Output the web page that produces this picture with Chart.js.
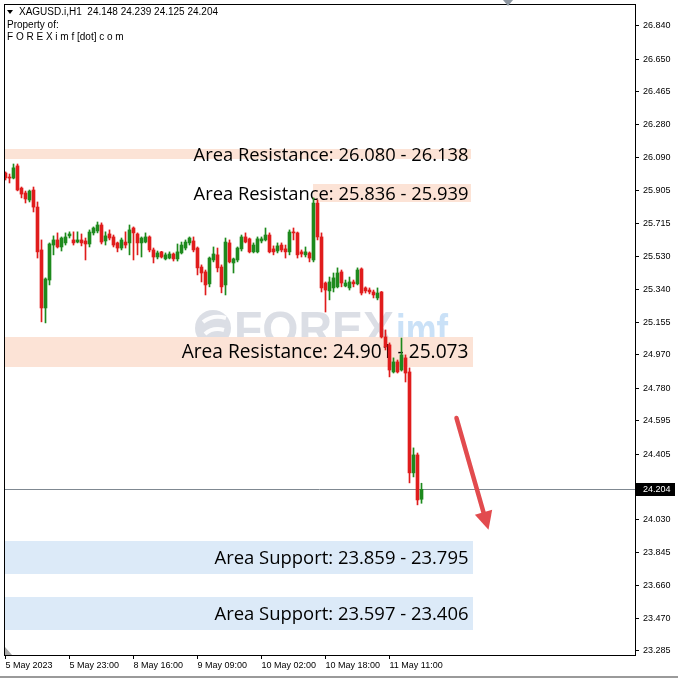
<!DOCTYPE html>
<html><head><meta charset="utf-8">
<script src="https://cdn.jsdelivr.net/npm/chart.js@4.4.1/dist/chart.umd.min.js"></script>
<style>html,body{margin:0;padding:0;background:#fff;overflow:hidden}canvas{display:block}</style>
</head><body>
<canvas id="c" width="678" height="678"></canvas>
<script>
// ---- data (XAGUSD.i H1) ----
const opens  = [26.004,25.978,25.975,26.044,25.918,25.890,25.850,25.907,25.810,25.566,25.236,25.395,25.594,25.623,25.583,25.606,25.646,25.623,25.611,25.623,25.617,25.600,25.663,25.674,25.708,25.617,25.657,25.640,25.606,25.577,25.611,25.606,25.691,25.657,25.606,25.611,25.640,25.566,25.526,25.555,25.515,25.520,25.543,25.515,25.549,25.577,25.606,25.617,25.577,25.469,25.441,25.373,25.509,25.538,25.469,25.367,25.606,25.492,25.509,25.572,25.640,25.629,25.555,25.555,25.617,25.623,25.651,25.572,25.560,25.594,25.572,25.555,25.668,25.663,25.555,25.538,25.549,25.509,25.833,25.640,25.378,25.333,25.350,25.356,25.441,25.361,25.350,25.384,25.373,25.458,25.350,25.338,25.327,25.293,25.327,25.071,25.026,24.872,24.929,24.883,24.952,24.872,24.298,24.400,24.148];
const highs  = [26.010,25.998,26.055,26.055,25.924,25.901,25.907,25.924,25.839,25.623,25.407,25.606,25.646,25.663,25.640,25.663,25.669,25.669,25.669,25.657,25.634,25.680,25.697,25.725,25.720,25.669,25.680,25.651,25.611,25.634,25.669,25.708,25.697,25.663,25.640,25.663,25.646,25.577,25.560,25.558,25.549,25.555,25.549,25.600,25.611,25.623,25.640,25.640,25.583,25.481,25.452,25.526,25.583,25.577,25.481,25.634,25.623,25.520,25.583,25.651,25.663,25.634,25.606,25.640,25.640,25.691,25.663,25.589,25.606,25.606,25.594,25.680,25.691,25.668,25.566,25.583,25.555,25.862,25.850,25.663,25.384,25.412,25.435,25.464,25.452,25.395,25.412,25.395,25.464,25.464,25.356,25.350,25.338,25.350,25.330,25.111,25.037,24.952,24.940,25.065,24.969,24.895,24.440,24.411,24.239];
const lows   = [25.964,25.947,25.970,25.902,25.862,25.833,25.839,25.782,25.520,25.157,25.151,25.367,25.538,25.577,25.560,25.594,25.634,25.594,25.606,25.589,25.509,25.583,25.651,25.663,25.600,25.594,25.623,25.583,25.555,25.566,25.577,25.538,25.509,25.538,25.526,25.606,25.555,25.492,25.515,25.520,25.509,25.515,25.503,25.503,25.543,25.566,25.594,25.555,25.424,25.384,25.310,25.356,25.498,25.441,25.322,25.310,25.492,25.435,25.498,25.560,25.606,25.549,25.549,25.549,25.606,25.617,25.549,25.538,25.549,25.555,25.520,25.538,25.623,25.520,25.526,25.526,25.498,25.498,25.623,25.327,25.213,25.282,25.327,25.350,25.356,25.356,25.338,25.356,25.367,25.310,25.321,25.316,25.293,25.282,25.065,24.997,24.844,24.866,24.866,24.877,24.815,24.241,24.275,24.116,24.125];
const closes = [25.976,25.975,26.033,25.907,25.884,25.856,25.901,25.810,25.555,25.236,25.401,25.600,25.623,25.583,25.634,25.640,25.657,25.606,25.623,25.606,25.600,25.668,25.691,25.708,25.611,25.646,25.634,25.594,25.577,25.623,25.594,25.680,25.663,25.606,25.634,25.640,25.566,25.526,25.549,25.526,25.538,25.543,25.515,25.555,25.594,25.611,25.634,25.566,25.464,25.435,25.367,25.520,25.543,25.464,25.356,25.611,25.498,25.515,25.577,25.640,25.611,25.555,25.594,25.629,25.629,25.651,25.555,25.555,25.589,25.566,25.555,25.668,25.663,25.538,25.543,25.555,25.520,25.833,25.640,25.350,25.338,25.384,25.407,25.435,25.378,25.378,25.384,25.373,25.452,25.321,25.333,25.327,25.310,25.321,25.071,25.014,24.883,24.929,24.872,24.969,24.866,24.298,24.400,24.144,24.204];
const timeTickIndex  = [0, 16, 32, 48, 64, 80, 96];
const timeTickLabels = ['5 May 2023','5 May 23:00','8 May 16:00','9 May 09:00','10 May 02:00','10 May 18:00','11 May 11:00'];
const priceTicks = [26.840,26.650,26.465,26.280,26.090,25.905,25.715,25.530,25.340,25.155,24.970,24.780,24.595,24.405,24.030,23.845,23.660,23.470,23.285];
const lastPrice = 24.204;
const headerLines = ['XAGUSD.i,H1  24.148 24.239 24.125 24.204', 'Property of:', 'F O R E X i m f [dot] c o m'];
const zoneLabels = ['Area Resistance: 26.080 - 26.138','Area Resistance: 25.836 - 25.939','Area Resistance: 24.901 - 25.073','Area Support: 23.859 - 23.795','Area Support: 23.597 - 23.406'];
const zoneTop    = [26.138, 25.939, 25.073, 23.911, 23.592];
const zoneBottom = [26.080, 25.836, 24.901, 23.723, 23.404];
const zoneFrom   = [-2, 76.75, -2, -2, -2];
const zoneTo     = [116.25, 116.25, 116.75, 116.75, 116.75];
const zoneKind   = ['res','res','res','sup','sup'];
const arrowFrom = {x:112.75, y:24.610};
const arrowTo   = {x:120.75, y:23.975};

// ---- styling ----
const UP = '#1d8a1d', DOWN = '#e01c1c';
const AX_FONT = {family:'"Liberation Sans", Arial, sans-serif', size:9};
const zoneTextWidth = [275, 275, 287, 254, 254];
const zoneTextRightInset = [2, 2, 4, 4, 4];

const bodyColors = closes.map((c,i)=> c>=opens[i] ? UP : DOWN);

const overlay = {
  id:'overlay',
  beforeDatasetsDraw(chart){
    const {ctx, chartArea:a, scales:{x,y}} = chart;
    ctx.save();
    ctx.beginPath(); ctx.rect(a.left,a.top,a.right-a.left,a.bottom-a.top); ctx.clip();
    // watermark
    ctx.fillStyle = 'rgba(175,182,198,0.45)';
    ctx.beginPath(); ctx.arc(213, 328, 18, 0, Math.PI*2); ctx.fill();
    ctx.strokeStyle = 'rgba(255,255,255,0.9)'; ctx.lineWidth = 4;
    ctx.beginPath(); ctx.moveTo(203,322); ctx.quadraticCurveTo(213,314,226,318); ctx.stroke();
    ctx.beginPath(); ctx.moveTo(205,334); ctx.quadraticCurveTo(213,327,224,330); ctx.stroke();
    ctx.font = 'bold 48px "Liberation Sans", Arial, sans-serif';
    ctx.textBaseline = 'alphabetic'; ctx.textAlign = 'left';
    const wF = ctx.measureText('FOREX').width;
    ctx.save(); ctx.translate(234, 345); ctx.scale(160/wF, 1);
    ctx.fillStyle = 'rgba(175,182,198,0.45)'; ctx.fillText('FOREX', 0, 0); ctx.restore();
    ctx.font = 'bold 44px "Liberation Sans", Arial, sans-serif';
    const wI = ctx.measureText('imf').width;
    ctx.save(); ctx.translate(396, 345); ctx.scale(52/wI, 1);
    ctx.fillStyle = 'rgba(150,195,240,0.5)'; ctx.fillText('imf', 0, 0); ctx.restore();
    // zones
    for (let k=0;k<zoneLabels.length;k++){
      const x0 = Math.max(a.left, x.getPixelForValue(zoneFrom[k]));
      const x1 = x.getPixelForValue(zoneTo[k]);
      const y0 = y.getPixelForValue(zoneTop[k]), y1 = y.getPixelForValue(zoneBottom[k]);
      ctx.fillStyle = zoneKind[k]==='res' ? '#fce3d6' : '#dceaf8';
      ctx.fillRect(Math.round(x0), Math.round(y0), Math.round(x1-x0), Math.round(y1-y0));
    }
    // zone labels
    for (let k=0;k<zoneLabels.length;k++){
      const x1 = x.getPixelForValue(zoneTo[k]) - zoneTextRightInset[k];
      const yc = (y.getPixelForValue(zoneTop[k]) + y.getPixelForValue(zoneBottom[k]))/2 + 1;
      ctx.font = '20px "Open Sans", "Noto Sans", sans-serif';
      const w = ctx.measureText(zoneLabels[k]).width;
      const size = 20*zoneTextWidth[k]/w;
      ctx.font = size.toFixed(2)+'px "Open Sans", "Noto Sans", sans-serif';
      ctx.fillStyle = '#000'; ctx.textAlign = 'right'; ctx.textBaseline = 'middle';
      ctx.fillText(zoneLabels[k], x1, yc);
    }
    // bid line
    const py = Math.round(y.getPixelForValue(lastPrice)) + 0.5;
    ctx.strokeStyle = '#7f8891'; ctx.lineWidth = 1;
    ctx.beginPath(); ctx.moveTo(a.left, py); ctx.lineTo(a.right, py); ctx.stroke();
    ctx.restore();
  },
  afterDraw(chart){
    const {ctx, chartArea:a, scales:{x,y}} = chart;
    ctx.save();
    // arrow
    const ax0 = x.getPixelForValue(arrowFrom.x), ay0 = y.getPixelForValue(arrowFrom.y);
    const ax1 = x.getPixelForValue(arrowTo.x), ay1 = y.getPixelForValue(arrowTo.y);
    const ang = Math.atan2(ay1-ay0, ax1-ax0);
    const headLen = 18, headW = 9;
    const bx = ax1 - headLen*Math.cos(ang), by = ay1 - headLen*Math.sin(ang);
    ctx.strokeStyle = '#e24b4e'; ctx.fillStyle = '#e24b4e'; ctx.lineWidth = 4.5; ctx.lineCap = 'round';
    ctx.beginPath(); ctx.moveTo(ax0, ay0); ctx.lineTo(bx+2*Math.cos(ang), by+2*Math.sin(ang)); ctx.stroke();
    ctx.beginPath(); ctx.moveTo(ax1, ay1);
    ctx.lineTo(bx + headW*Math.sin(ang), by - headW*Math.cos(ang));
    ctx.lineTo(bx - headW*Math.sin(ang), by + headW*Math.cos(ang));
    ctx.closePath(); ctx.fill();
    // frame
    ctx.strokeStyle = '#000'; ctx.lineWidth = 1;
    ctx.strokeRect(a.left+0.5, a.top+0.5, a.right-a.left, a.bottom-a.top);
    // header
    ctx.fillStyle = '#000'; ctx.textAlign = 'left'; ctx.textBaseline = 'middle';
    ctx.beginPath(); ctx.moveTo(7,10); ctx.lineTo(13,10); ctx.lineTo(10,14); ctx.closePath(); ctx.fill();
    ctx.font = '10px "Liberation Sans", Arial, sans-serif';
    ctx.fillText(headerLines[0], 19, 12);
    ctx.fillText(headerLines[1], 7, 25);
    ctx.fillText(headerLines[2], 7, 37);
    // current price label
    const py = Math.round(y.getPixelForValue(lastPrice));
    ctx.fillStyle = '#000'; ctx.fillRect(636, py-6, 39, 13);
    ctx.fillStyle = '#fff'; ctx.font = '9px "Liberation Sans", Arial, sans-serif';
    ctx.fillText(lastPrice.toFixed(3), 643, py+0.5);
    // markers
    ctx.fillStyle = '#8d96a0';
    ctx.beginPath(); ctx.moveTo(503,0); ctx.lineTo(513,0); ctx.lineTo(508,6); ctx.closePath(); ctx.fill();
    ctx.fillStyle = '#a8a8a8';
    ctx.beginPath(); ctx.moveTo(5,647); ctx.lineTo(5,655); ctx.lineTo(12,655); ctx.closePath(); ctx.fill();
    ctx.fillStyle = '#9a9a9a'; ctx.fillRect(0, 676, 678, 2);
    ctx.restore();
  }
};

new Chart(document.getElementById('c'), {
  type:'bar',
  data:{
    datasets:[
      { label:'body', data: opens.map((o,i)=>({x:i, y:[o, closes[i]]})), backgroundColor: bodyColors,
        barThickness:3, minBarLength:1, borderWidth:0, grouped:false, order:1 },
      { label:'wick', data: lows.map((l,i)=>({x:i, y:[l, highs[i]]})), backgroundColor: bodyColors,
        barThickness:1, borderWidth:0, grouped:false, order:2 }
    ]
  },
  options:{
    responsive:false, animation:false, devicePixelRatio:1,
    layout:{padding:{left:4, top:4, right:0, bottom:0}},
    plugins:{legend:{display:false}, tooltip:{enabled:false}},
    scales:{
      x:{ type:'linear', min:-0.375, max:157.375, offset:false, position:'bottom',
        grid:{drawOnChartArea:false, drawTicks:true, tickLength:4, color:'#000', offset:false},
        border:{display:false},
        ticks:{align:'start', autoSkip:false, maxRotation:0, padding:1, color:'#000', font:AX_FONT,
          callback:(v)=>{ const k = timeTickIndex.indexOf(Math.round(v)); return k>=0 ? timeTickLabels[k] : ''; }},
        afterBuildTicks:(s)=>{ s.ticks = timeTickIndex.map(v=>({value:v})); },
        afterFit:(s)=>{ s.height = 23; s.paddingLeft = 0; s.paddingRight = 0; }
      },
      y:{ type:'linear', position:'right', min:23.262, max:26.965, beginAtZero:false,
        grid:{drawOnChartArea:false, drawTicks:true, tickLength:4, color:'#000'},
        border:{display:false},
        ticks:{padding:4, color:'#000', font:AX_FONT, callback:(v)=>Number(v).toFixed(3)},
        afterBuildTicks:(s)=>{ s.ticks = priceTicks.map(v=>({value:v})); },
        afterFit:(s)=>{ s.width = 43; s.paddingTop = 0; s.paddingBottom = 0; }
      }
    }
  },
  plugins:[overlay]
});
</script>
</body></html>
